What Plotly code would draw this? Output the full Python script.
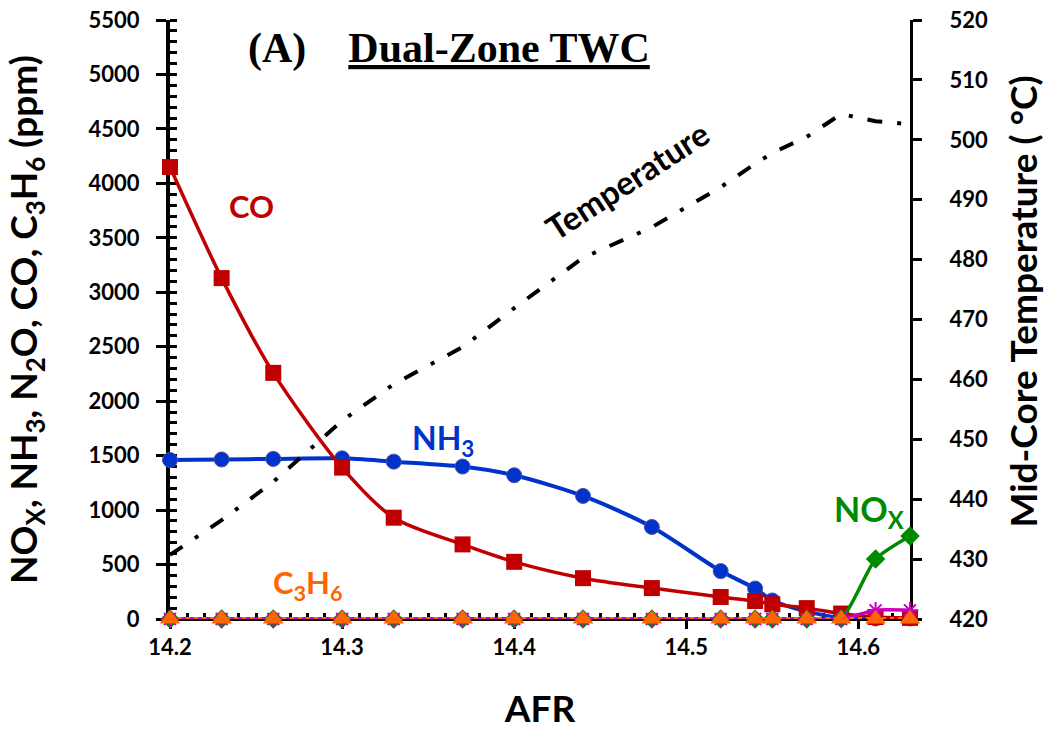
import plotly.graph_objects as go

afr = [14.2, 14.23, 14.26, 14.3, 14.33, 14.37, 14.4, 14.44, 14.48, 14.52, 14.54, 14.55, 14.57, 14.59, 14.61, 14.63]
co = [4150, 3130, 2260, 1390, 930, 685, 525, 375, 284, 202, 165, 135, 100, 50, 18, 10]
nh3 = [1460, 1465, 1470, 1475, 1445, 1400, 1320, 1130, 845, 440, 280, 170, 70, 10, 5, 5]
nox = [0, 0, 0, 0, 0, 0, 0, 0, 0, 0, 0, 0, 0, 5, 550, 762]
n2o = [0, 0, 0, 0, 0, 0, 0, 0, 0, 0, 0, 0, 0, 0, 80, 80]
c3h6 = [0, 0, 0, 0, 0, 0, 0, 0, 0, 0, 0, 0, 0, 0, 0, 0]
temperature = [430.7, 436.5, 442.9, 453.1, 459.2, 465.4, 471.9, 480.3, 485.4, 492.1, 496.0, 497.8, 500.5, 504.3, 503.1, 502.6]

x_ticks = [14.2, 14.3, 14.4, 14.5, 14.6]
y_ticks = [0, 500, 1000, 1500, 2000, 2500, 3000, 3500, 4000, 4500, 5000, 5500]
t_ticks = [420, 430, 440, 450, 460, 470, 480, 490, 500, 510, 520]

RED = "#C00000"
BLUE = "#0033CC"
GREEN = "#008A00"
MAGENTA = "#CC00BB"
ORANGE = "#FF6600"
FONT = "Lato"

fig = go.Figure()

fig.add_trace(go.Scatter(x=afr, y=nh3, mode="lines+markers", name="NH3",
                         line=dict(color=BLUE, width=4, shape="spline", smoothing=0.8),
                         marker=dict(symbol="circle", size=15, color=BLUE, line=dict(color="#5050A0", width=1)),
                         cliponaxis=False))
fig.add_trace(go.Scatter(x=afr, y=co, mode="lines+markers", name="CO",
                         line=dict(color=RED, width=3.5, shape="spline", smoothing=0.8),
                         marker=dict(symbol="square", size=16, color=RED),
                         cliponaxis=False))
fig.add_trace(go.Scatter(x=afr, y=nox, mode="lines+markers", name="NOx",
                         line=dict(color=GREEN, width=3.5, shape="spline", smoothing=0.6),
                         marker=dict(symbol="diamond", size=15, color=GREEN),
                         cliponaxis=False))
fig.add_trace(go.Scatter(x=afr, y=n2o, mode="lines+markers", name="N2O",
                         line=dict(color=MAGENTA, width=3.5, shape="spline", smoothing=0.6),
                         marker=dict(symbol="asterisk-open", size=14, color=MAGENTA, line=dict(color=MAGENTA, width=2)),
                         cliponaxis=False))
fig.add_trace(go.Scatter(x=afr, y=c3h6, mode="lines+markers", name="C3H6",
                         line=dict(color=ORANGE, width=4, dash="dot"),
                         marker=dict(symbol="triangle-up", size=18, color=ORANGE),
                         cliponaxis=False))
fig.add_trace(go.Scatter(x=afr, y=temperature, mode="lines", name="Temperature", yaxis="y2",
                         line=dict(color="black", width=4, dash="15px,15px,4px,15px"),
                         cliponaxis=False))

bold = dict(family=FONT, weight="bold")

annotations = [
    dict(x=14.2476, y=3789, text="CO", font=dict(size=31, color=RED, **bold)),
    dict(x=14.3584, y=1640, text="NH<sub>3</sub>", font=dict(size=32, color=BLUE, **bold)),
    dict(x=14.280, y=320, text="C<sub>3</sub>H<sub>6</sub>", font=dict(size=31, color=ORANGE, **bold)),
    dict(x=14.6063, y=990, text="NO<sub>X</sub>", font=dict(size=34, color=GREEN, **bold)),
    dict(x=14.4658, y=4028, text="Temperature", textangle=-33, font=dict(size=33, color="black", **bold)),
    dict(x=14.362, y=5239, text="(A)&nbsp;&nbsp;&nbsp;&nbsp;<u>Dual-Zone TWC</u>",
         font=dict(size=42, color="black", family="Liberation Serif", weight="bold")),
]
for a in annotations:
    a.update(xref="x", yref="y", showarrow=False)

# right axis title placed as a rotated annotation beside the right axis
annotations.append(dict(xref="paper", yref="paper", x=1.0, y=0.53, xshift=113, xanchor="center", yanchor="middle",
                        showarrow=False, text="Mid-Core Temperature ( °C)", textangle=-90,
                        font=dict(size=37, color="black", **bold)))

fig.update_layout(
    width=1047, height=730,
    margin=dict(l=170, r=137, t=20, b=111),
    paper_bgcolor="white", plot_bgcolor="white",
    showlegend=False,
    annotations=annotations,
    xaxis=dict(range=[14.2, 14.63], tickvals=x_ticks, ticktext=[f"{v:.1f}" for v in x_ticks],
               automargin=False, layer="below traces",
               showgrid=False, zeroline=False, showline=True, linecolor="black", linewidth=2,
               ticks="outside", ticklen=8, tickwidth=3, tickcolor="black",
               minor=dict(dtick=0.01, tick0=14.2, ticks="inside", ticklen=6, tickwidth=3, tickcolor="black"),
               tickfont=dict(size=22, color="black", **bold),
               title=dict(text="AFR", font=dict(size=37, color="black", **bold), standoff=38)),
    yaxis=dict(range=[0, 5500], tickvals=y_ticks, showgrid=False, zeroline=False,
               automargin=False, layer="below traces",
               showline=True, linecolor="black", linewidth=4,
               ticks="outside", ticklen=10, tickwidth=3, tickcolor="black", ticklabelstandoff=12,
               minor=dict(dtick=100, tick0=0, ticks="inside", ticklen=7, tickwidth=3, tickcolor="black"),
               tickfont=dict(size=22, color="black", **bold),
               title=dict(text="NO<sub>X</sub>, NH<sub>3</sub>, N<sub>2</sub>O, CO, C<sub>3</sub>H<sub>6</sub> (ppm)",
                          font=dict(size=37, color="black", **bold), standoff=46)),
    yaxis2=dict(range=[420, 520], tickvals=t_ticks, overlaying="y", side="right", showgrid=False, zeroline=False,
                automargin=False, layer="below traces",
                showline=True, linecolor="black", linewidth=3,
                ticks="outside", ticklen=9, tickwidth=3, tickcolor="black", ticklabelstandoff=23,
                tickfont=dict(size=22, color="black", **bold)),
)

fig.write_html("out.html", config={"displayModeBar": False},
               post_script="document.body.style.margin='0';")
